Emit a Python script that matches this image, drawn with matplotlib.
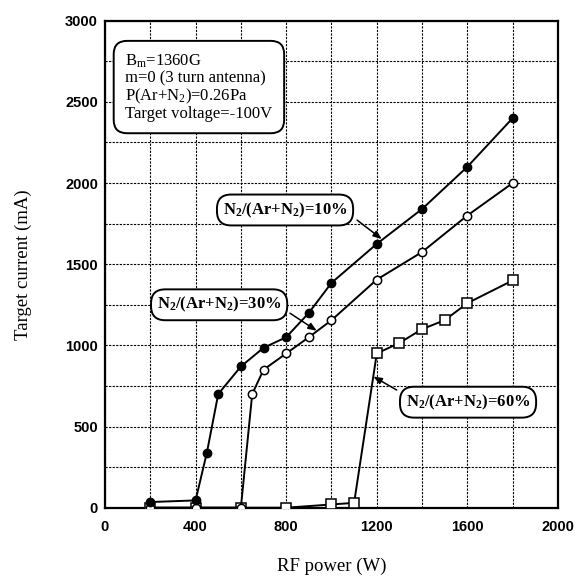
import matplotlib
matplotlib.use("Agg")
import matplotlib.pyplot as plt
from matplotlib.ticker import MultipleLocator

plt.rcParams['mathtext.fontset'] = 'custom'
plt.rcParams['mathtext.rm'] = 'Liberation Serif'
plt.rcParams['mathtext.it'] = 'Liberation Serif:italic'
plt.rcParams['mathtext.bf'] = 'Liberation Serif:bold'

# Data
p10 = [200, 400, 450, 500, 600, 700, 800, 900, 1000, 1200, 1400, 1600, 1800]
i10 = [35, 45, 340, 700, 870, 985, 1050, 1200, 1385, 1625, 1840, 2100, 2400]
p30 = [200, 400, 600, 650, 700, 800, 900, 1000, 1200, 1400, 1600, 1800]
i30 = [0, 0, 0, 700, 850, 950, 1050, 1155, 1405, 1575, 1800, 2000]
p60 = [200, 400, 600, 800, 1000, 1100, 1200, 1300, 1400, 1500, 1600, 1800]
i60 = [0, 0, 0, 0, 20, 30, 950, 1015, 1100, 1155, 1260, 1400]

info_text = ("B$_\\mathrm{m}$=1360G\n"
             "m=0 (3 turn antenna)\n"
             "P(Ar+N$_2$)=0.26Pa\n"
             "Target voltage=-100V")
lab10 = "N$_\\mathbf{2}$/(Ar+N$_\\mathbf{2}$)=10%"
lab30 = "N$_\\mathbf{2}$/(Ar+N$_\\mathbf{2}$)=30%"
lab60 = "N$_\\mathbf{2}$/(Ar+N$_\\mathbf{2}$)=60%"

fig = plt.figure(figsize=(5.8, 5.78), dpi=100)
ax = fig.add_axes([0.181, 0.1216, 0.781, 0.8426])

ax.plot(p60, i60, color='black', lw=1.4, marker='s', ms=6.5, mfc='white',
        mec='black', mew=1.1, zorder=3)
ax.plot(p30, i30, color='black', lw=1.4, marker='o', ms=6, mfc='white',
        mec='black', mew=1.1, zorder=4)
ax.plot(p10, i10, color='black', lw=1.4, marker='o', ms=6, mfc='black',
        mec='black', zorder=5)

ax.set_xlim(0, 2000)
ax.set_ylim(0, 3000)
ax.xaxis.set_major_locator(MultipleLocator(400))
ax.xaxis.set_minor_locator(MultipleLocator(200))
ax.yaxis.set_major_locator(MultipleLocator(500))
ax.yaxis.set_minor_locator(MultipleLocator(250))
ax.grid(True, which='both', color='black', lw=0.8, linestyle=(0, (2, 1.2)))
ax.tick_params(axis='x', which='both', length=0, pad=9)
ax.tick_params(axis='y', which='both', length=0, pad=5)
for lbl in ax.get_xticklabels() + ax.get_yticklabels():
    lbl.set_fontfamily('Liberation Sans')
    lbl.set_fontweight('bold')
    lbl.set_fontsize(10.5)
for s in ax.spines.values():
    s.set_linewidth(1.6)

ax.set_xlabel("RF power (W)", fontfamily='Liberation Serif', fontsize=13.5, labelpad=17)
ax.set_ylabel("Target current (mA)", fontfamily='Liberation Serif', fontsize=13.5, labelpad=24)

ax.text(90, 2590, info_text, fontfamily='Liberation Serif', fontsize=12,
        ha='left', va='center', linespacing=1.0, zorder=6,
        bbox=dict(boxstyle='round,pad=0.7,rounding_size=0.8', fc='white',
                  ec='black', lw=1.4))

box = dict(boxstyle='round,pad=0.35,rounding_size=0.85', fc='white', ec='black', lw=1.4)
ax.text(795, 1834, lab10, fontfamily='Liberation Serif', fontweight='bold',
        fontsize=12, ha='center', va='center', bbox=box, zorder=6)
ax.text(504, 1250, lab30, fontfamily='Liberation Serif', fontweight='bold',
        fontsize=12, ha='center', va='center', bbox=box, zorder=6)
ax.text(1603, 650, lab60, fontfamily='Liberation Serif', fontweight='bold',
        fontsize=12, ha='center', va='center', bbox=box, zorder=6)

arw = dict(arrowstyle='-|>,head_length=0.5,head_width=0.2', color='black', lw=1.1,
           shrinkA=0, shrinkB=0)
ax.annotate('', xy=(1222, 1655), xytext=(1113, 1772), arrowprops=arw, zorder=6)
ax.annotate('', xy=(935, 1090), xytext=(817, 1198), arrowprops=arw, zorder=6)
ax.annotate('', xy=(1185, 808), xytext=(1288, 725), arrowprops=arw, zorder=6)

fig.savefig("out.png", dpi=100)
